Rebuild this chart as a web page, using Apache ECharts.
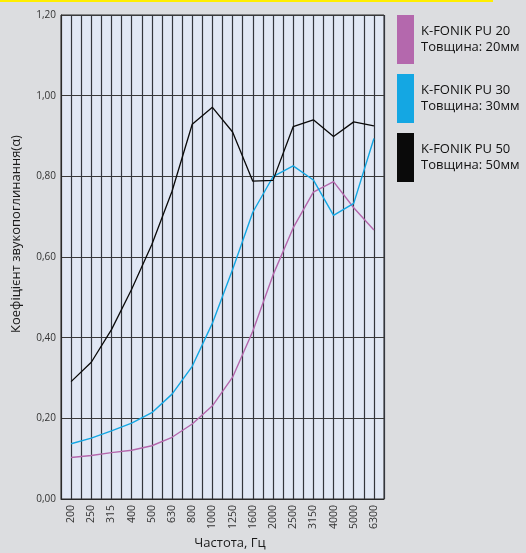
<!DOCTYPE html>
<html>
<head>
<meta charset="utf-8">
<script src="https://cdn.jsdelivr.net/npm/echarts@6/dist/echarts.min.js"></script>
<style>
html,body{margin:0;padding:0;background:#dcdde0;}
#c{width:526px;height:553px;}
</style>
</head>
<body>
<div id="c"></div>
<script>
const categories = ['200','250','315','400','500','630','800','1000','1250','1600','2000','2500','3150','4000','5000','6300'];
const yTicks = [0, 0.2, 0.4, 0.6, 0.8, 1.0, 1.2];
const seriesNames = ['K-FONIK PU 20', 'K-FONIK PU 30', 'K-FONIK PU 50'];
const thicknessLabels = ['Товщина: 20мм', 'Товщина: 30мм', 'Товщина: 50мм'];
const pu20 = [0.103, 0.108, 0.115, 0.121, 0.132, 0.153, 0.186, 0.231, 0.302, 0.416, 0.555, 0.672, 0.761, 0.787, 0.722, 0.667];
const pu30 = [0.137, 0.151, 0.169, 0.188, 0.214, 0.260, 0.329, 0.436, 0.569, 0.711, 0.799, 0.826, 0.791, 0.703, 0.733, 0.894];
const pu50 = [0.291, 0.339, 0.420, 0.520, 0.631, 0.763, 0.929, 0.971, 0.910, 0.788, 0.790, 0.923, 0.940, 0.899, 0.935, 0.925];
const colors = ['#b468ad', '#14a7e3', '#0a0a0a'];
const xTitle = 'Частота, Гц';
const yTitle = 'Коефіцієнт звукопоглинання(α)';

const font = 'Open Sans';
const gridTop = 15, gridLeft = 61, gridW = 323, gridH = 484;

const chart = echarts.init(document.getElementById('c'));
chart.setOption({
  backgroundColor: '#dcdde0',
  animation: false,
  textStyle: { fontFamily: font },
  grid: {
    left: gridLeft, top: gridTop, width: gridW, height: gridH,
    show: true, backgroundColor: '#e1e8f5', borderColor: '#2a2a2a', borderWidth: 1
  },
  legend: {
    orient: 'vertical', left: 397, top: 15, padding: 0,
    itemWidth: 17, itemHeight: 49, itemGap: 10, icon: 'rect',
    textStyle: { fontFamily: font, fontSize: 13, lineHeight: 16, color: '#111', padding: [0, 0, 0, 2] },
    formatter: function (name) {
      const i = seriesNames.indexOf(name);
      return name + '\n' + thicknessLabels[i];
    },
    data: seriesNames
  },
  xAxis: {
    type: 'category', data: categories, boundaryGap: true,
    axisLine: { show: true, lineStyle: { color: '#2a2a2a', width: 1 } },
    axisTick: { show: true, inside: true, alignWithLabel: true, interval: 0, length: gridH, lineStyle: { color: '#33363d', width: 1.2 } },
    splitLine: { show: true, interval: 0, lineStyle: { color: '#33363d', width: 1.2 } },
    axisLabel: { interval: 0, rotate: 90, fontSize: 10.5, color: '#333', margin: 6, fontFamily: font }
  },
  yAxis: {
    type: 'value', min: 0, max: 1.2, interval: 0.2,
    axisLine: { show: true, lineStyle: { color: '#2a2a2a' } },
    axisTick: { show: false },
    splitLine: { show: true, lineStyle: { color: '#3a3a3a', width: 1.2 } },
    axisLabel: {
      fontSize: 10, color: '#333', margin: 5, fontFamily: font,
      formatter: function (v) {
        const t = yTicks.find(function (x) { return Math.abs(x - v) < 1e-6; });
        return t === undefined ? '' : t.toFixed(2).replace('.', ',');
      }
    }
  },
  series: [
    { name: seriesNames[0], type: 'line', data: pu20, symbol: 'none', color: colors[0], lineStyle: { width: 1.4, color: colors[0] }, itemStyle: { color: colors[0] } },
    { name: seriesNames[1], type: 'line', data: pu30, symbol: 'none', color: colors[1], lineStyle: { width: 1.4, color: colors[1] }, itemStyle: { color: colors[1] } },
    { name: seriesNames[2], type: 'line', data: pu50, symbol: 'none', color: colors[2], lineStyle: { width: 1.3, color: colors[2] }, itemStyle: { color: colors[2] } }
  ],
  graphic: [
    { type: 'rect', left: 0, top: 0, shape: { width: 493, height: 2 }, style: { fill: '#ffee00' } },
    { type: 'text', x: 230, y: 543, style: { text: xTitle, fontFamily: font, fontSize: 13, fill: '#1a1a1a', align: 'center', verticalAlign: 'middle' } },
    { type: 'text', x: 16, y: 234, rotation: Math.PI / 2, style: { text: yTitle, fontFamily: font, fontSize: 13, fill: '#1a1a1a', align: 'center', verticalAlign: 'middle' } }
  ]
});
</script>
</body>
</html>
